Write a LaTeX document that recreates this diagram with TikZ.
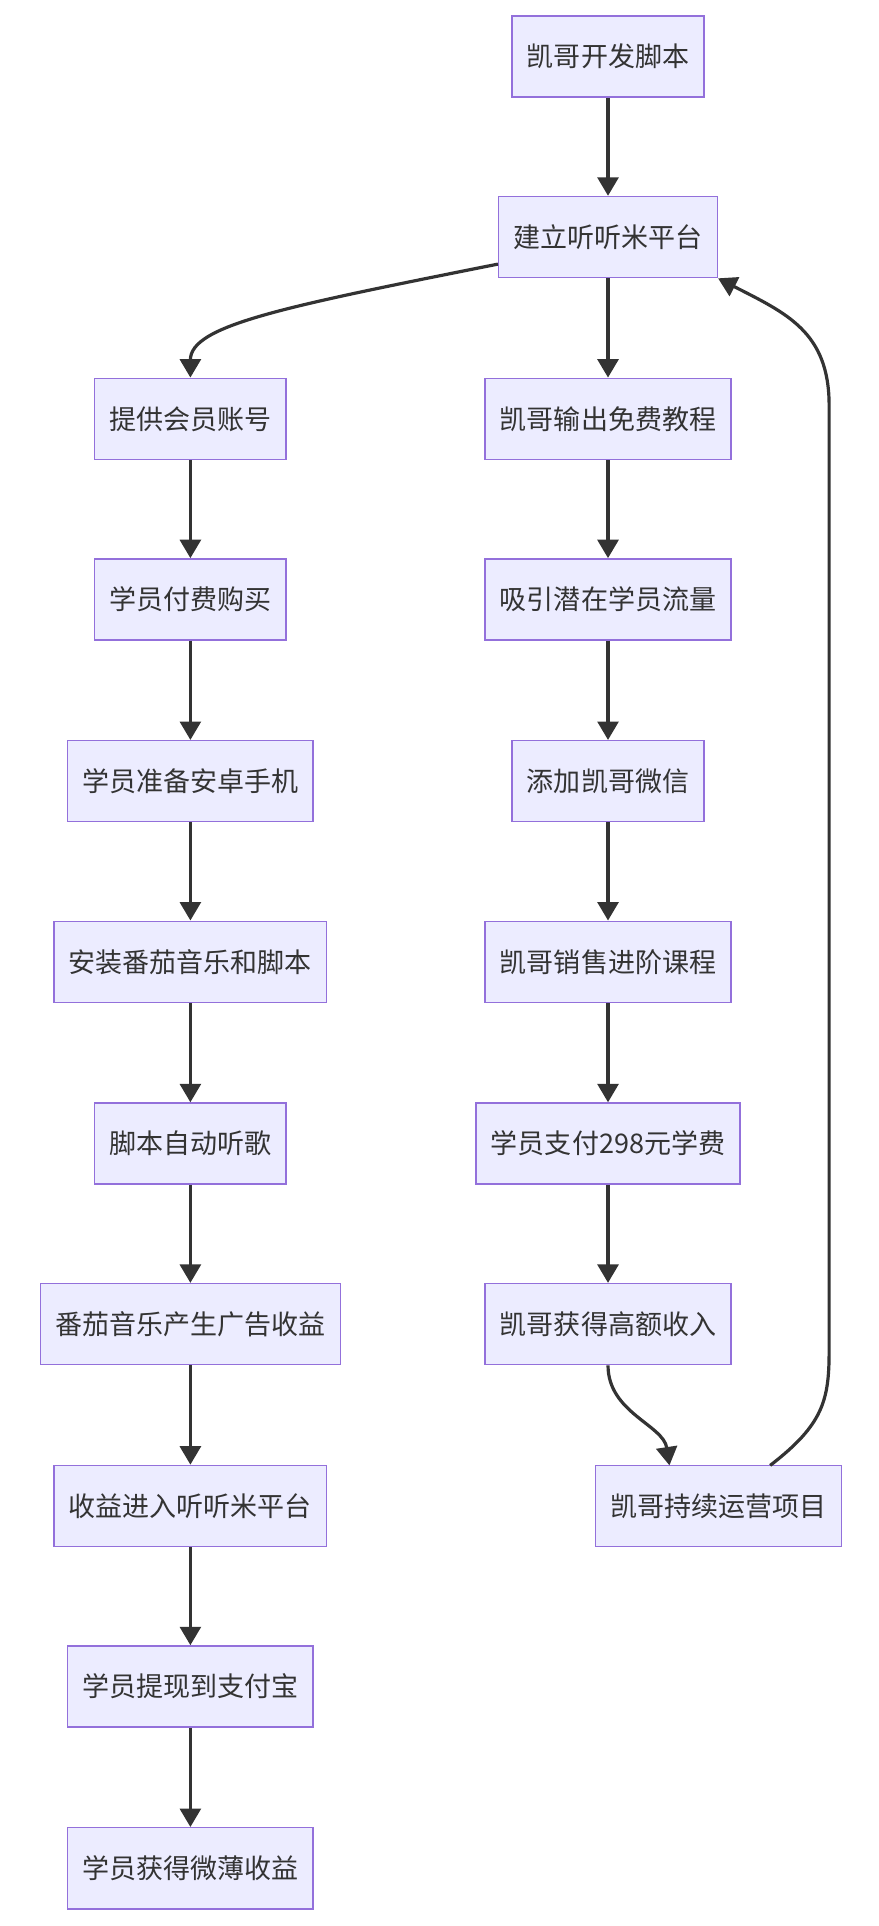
\documentclass[tikz,border=0pt]{standalone}
\usepackage{fontspec}
\setmainfont{Noto Sans CJK SC}
\usetikzlibrary{arrows.meta}
\definecolor{boxfill}{HTML}{ECECFF}
\definecolor{boxline}{HTML}{9370DB}
\definecolor{arrowc}{HTML}{333333}
\tikzset{
	box/.style={draw=boxline, fill=boxfill, line width=1.2pt, minimum height=66pt, inner xsep=12pt, font=\fontsize{22}{26}\selectfont, text=arrowc},
	arr/.style={draw=arrowc, line width=2.6pt, -{Triangle[length=15pt,width=17pt]}}
}
\begin{document}
\begin{tikzpicture}[x=1pt,y=-1pt]

	\useasboundingbox (0,0) rectangle (715,1568);

	%right column
	\node[box] (dev)    at (495,46)   {凯哥开发脚本};
	\node[box] (plat)   at (495,193)  {建立听听米平台};
	\node[box] (tut)    at (495,341)  {凯哥输出免费教程};
	\node[box] (flow)   at (495,488)  {吸引潜在学员流量};
	\node[box] (wx)     at (495,636)  {添加凯哥微信};
	\node[box] (sell)   at (495,783)  {凯哥销售进阶课程};
	\node[box] (pay)    at (495,931)  {学员支付298元学费};
	\node[box] (income) at (495,1078) {凯哥获得高额收入};
	\node[box] (ops)    at (585,1226) {凯哥持续运营项目};

	%left column
	\node[box] (acct)   at (155,341)  {提供会员账号};
	\node[box] (buy)    at (155,488)  {学员付费购买};
	\node[box] (phone)  at (155,636)  {学员准备安卓手机};
	\node[box] (inst)   at (155,783)  {安装番茄音乐和脚本};
	\node[box] (listen) at (155,931)  {脚本自动听歌};
	\node[box] (ads)    at (155,1078) {番茄音乐产生广告收益};
	\node[box] (into)   at (155,1226) {收益进入听听米平台};
	\node[box] (cash)   at (155,1373) {学员提现到支付宝};
	\node[box] (small)  at (155,1521) {学员获得微薄收益};

	%edges
	\draw[arr] (dev) -- (plat);
	\draw[arr] (plat) -- (tut);
	\draw[arr] (tut) -- (flow);
	\draw[arr] (flow) -- (wx);
	\draw[arr] (wx) -- (sell);
	\draw[arr] (sell) -- (pay);
	\draw[arr] (pay) -- (income);
	\draw[arr] (income.south) .. controls (495,1150) and (540,1160) .. (545,1193);
	\draw[arr] (627,1193) .. controls (670,1160) and (675,1140) .. (675,1100)
		-- (675,330) .. controls (675,270) and (640,255) .. (plat.south east);
	\draw[arr] (plat.west) ++(0,22) .. controls (230,250) and (155,265) .. (acct.north);
	\draw[arr] (acct) -- (buy);
	\draw[arr] (buy) -- (phone);
	\draw[arr] (phone) -- (inst);
	\draw[arr] (inst) -- (listen);
	\draw[arr] (listen) -- (ads);
	\draw[arr] (ads) -- (into);
	\draw[arr] (into) -- (cash);
	\draw[arr] (cash) -- (small);

\end{tikzpicture}
\end{document}
